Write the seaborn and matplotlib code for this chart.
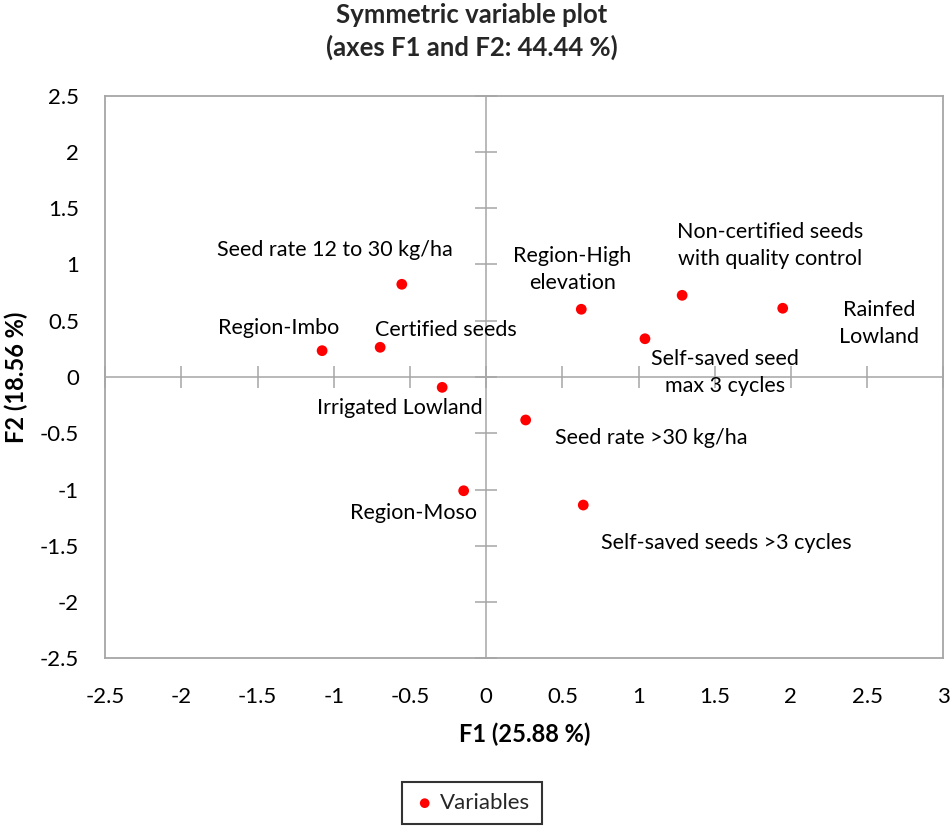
import matplotlib
matplotlib.use("Agg")
import matplotlib.pyplot as plt
import seaborn as sns
import pandas as pd
import numpy as np

# Factor coordinates of the variables on F1 / F2
variables = [
    "Seed rate 12 to 30 kg/ha",
    "Region-Imbo",
    "Certified seeds",
    "Irrigated Lowland",
    "Region-Moso",
    "Seed rate >30 kg/ha",
    "Self-saved seeds >3 cycles",
    "Region-High\nelevation",
    "Non-certified seeds\nwith quality control",
    "Self-saved seed\nmax 3 cycles",
    "Rainfed\nLowland",
]
f1 = [-0.554, -1.077, -0.696, -0.289, -0.148, 0.259, 0.637, 0.624, 1.286, 1.042, 1.946]
f2 = [0.824, 0.234, 0.264, -0.092, -1.011, -0.382, -1.138, 0.602, 0.726, 0.340, 0.611]

x_ticks = [-2.5, -2, -1.5, -1, -0.5, 0, 0.5, 1, 1.5, 2, 2.5, 3]
y_ticks = [-2.5, -2, -1.5, -1, -0.5, 0, 0.5, 1, 1.5, 2, 2.5]
tick_labels_x = ["-2.5", "-2", "-1.5", "-1", "-0.5", "0", "0.5", "1", "1.5", "2", "2.5", "3"]
tick_labels_y = ["-2.5", "-2", "-1.5", "-1", "-0.5", "0", "0.5", "1", "1.5", "2", "2.5"]

# label placement relative to each point, in pixels
label_offsets = [(-67, 34), (-43, 23), (66, 17), (-42, -21), (-50, -22), (126, -18),
                 (143, -38), (-9, 40), (88, 50), (80, -34), (96, -15)]

df = pd.DataFrame({"F1": f1, "F2": f2, "label": variables})

sns.set_theme(style="white")
plt.rcParams["font.family"] = ["Lato", "DejaVu Sans"]

fig = plt.figure(figsize=(9.51, 8.27), dpi=100)
ax = fig.add_axes([105.3 / 951, 1 - 658.3 / 827, 838 / 951, 562.6 / 827])

sns.scatterplot(data=df, x="F1", y="F2", color="#ff0000", s=60, edgecolor="none",
                label="Variables", ax=ax, zorder=3)

ax.set_xlim(-2.5, 3)
ax.set_ylim(-2.5, 2.5)
ax.set_xticks(x_ticks)
ax.set_xticklabels(tick_labels_x)
ax.set_yticks(y_ticks)
ax.set_yticklabels(tick_labels_y)
ax.tick_params(axis="both", length=0, labelsize=16, colors="black")
ax.tick_params(axis="x", pad=21)
ax.tick_params(axis="y", pad=19)

for sp in ax.spines.values():
    sp.set_color("#a6a6a6")
    sp.set_linewidth(1.3)

# axes through the origin with crossing tick marks
sec_x = ax.secondary_xaxis(0.5)
sec_x.set_xticks(x_ticks)
sec_x.tick_params(axis="x", direction="inout", length=16, width=1.1, color="#a6a6a6",
                  labelbottom=False, labeltop=False)
for side in ("bottom", "top"):
    sec_x.spines[side].set_color("#a6a6a6")
    sec_x.spines[side].set_linewidth(1.1)

sec_y = ax.secondary_yaxis(2.5 / 5.5)
sec_y.set_yticks(y_ticks)
sec_y.tick_params(axis="y", direction="inout", length=16, width=1.1, color="#a6a6a6",
                  labelleft=False, labelright=False)
for side in ("left", "right"):
    sec_y.spines[side].set_color("#a6a6a6")
    sec_y.spines[side].set_linewidth(1.1)

for (x, y, lab), (dx, dy) in zip(zip(f1, f2, variables), label_offsets):
    ax.annotate(lab, (x, y), xytext=(dx, dy), textcoords="offset pixels",
                ha="center", va="center", multialignment="center",
                fontsize=15.5, color="black", linespacing=1.45)

ax.set_xlabel("F1 (25.88 %)", fontsize=17, fontweight="bold", color="black")
ax.set_ylabel("F2 (18.56 %)", fontsize=17, fontweight="bold", color="black")
ax.xaxis.label.set_va("center")
ax.yaxis.label.set_va("center")
ax.xaxis.set_label_coords(0.5, -0.1346)
ax.yaxis.set_label_coords(-0.1066, 0.5)

fig.text(472 / 951, 1 - 31.5 / 827, "Symmetric variable plot\n(axes F1 and F2: 44.44 %)",
         ha="center", va="center", fontsize=18.5, fontweight="bold", linespacing=1.35)

handles, labels = ax.get_legend_handles_labels()
if ax.get_legend() is not None:
    ax.get_legend().remove()
leg = fig.legend(handles, labels, loc="center", bbox_to_anchor=(472 / 951, 1 - 803 / 827),
                 frameon=True, fancybox=False, fontsize=16, handletextpad=0.2,
                 handlelength=1.0, borderpad=0.5, markerscale=0.9)
leg.get_frame().set_edgecolor("black")
leg.get_frame().set_linewidth(1.5)

fig.savefig("out.png", dpi=100)
